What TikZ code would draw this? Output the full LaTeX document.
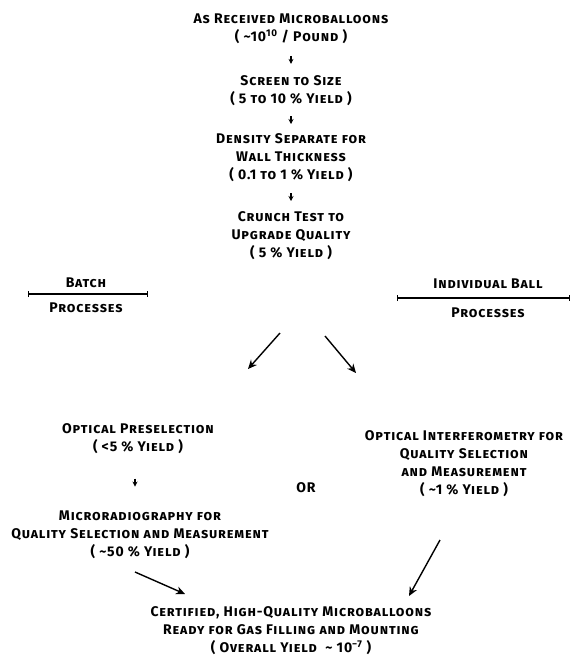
\documentclass[tikz,border=0pt]{standalone}
\usepackage{fontspec}
\setmainfont{Fira Sans}[Letters=SmallCaps,LetterSpace=6]
\usetikzlibrary{arrows.meta,calc}
\begin{document}
\begin{tikzpicture}[x=1pt,y=-1pt,
  txt/.style={font=\fontsize{14}{18}\selectfont\bfseries, align=center, inner sep=1pt},
  smallarr/.style={-{Stealth[length=5pt,width=5pt]}, line width=1.2pt},
  bigarr/.style={-{Stealth[length=9pt,width=8pt]}, line width=1.4pt},
  barline/.style={{Bar[width=6pt]}-{Bar[width=6pt]}, line width=1.2pt}]
\useasboundingbox (0,0) rectangle (575,670);

\node[txt] (n1) at (291,29) {As Received Microballoons\\( \textasciitilde10\textsuperscript{10} / Pound )};
\node[txt] (n2) at (291,91) {Screen to Size\\( 5 to 10 \% Yield )};
\node[txt] (n3) at (291,158) {Density Separate for\\Wall Thickness\\( 0.1 to 1 \% Yield )};
\node[txt] (n4) at (291,236) {Crunch Test to\\Upgrade Quality\\( 5 \% Yield )};

\node[txt] (batch) at (86,283) {Batch};
\node[txt] (proc1) at (86,308) {Processes};
\coordinate (b1) at (28,294);
\coordinate (b2) at (148,294);
\draw[barline] (b1) -- (b2);

\node[txt] (indiv) at (488,284) {Individual Ball};
\node[txt] (proc2) at (488,313) {Processes};
\coordinate (i1) at (397,298);
\coordinate (i2) at (570,298);
\draw[barline] (i1) -- (i2);

\node[txt] (n5) at (138,439) {Optical Preselection\\( <5 \% Yield )};
\node[txt] (n6) at (140,535) {Microradiography for\\Quality Selection and Measurement\\( \textasciitilde50 \% Yield )};
\node[txt] (or) at (306,488) {OR};
\node[txt] (n7) at (464,464) {Optical Interferometry for\\Quality Selection\\and Measurement\\( \textasciitilde1 \% Yield )};
\node[txt] (n8) at (291,631) {Certified, High-Quality Microballoons\\Ready for Gas Filling and Mounting\\( Overall Yield \ \textasciitilde\ 10\textsuperscript{−7} )};

\draw[smallarr] ($(n1.south)!.5!(n2.north)$) ++(0,-4) -- ++(0,8);
\draw[smallarr] ($(n2.south)!.5!(n3.north)$) ++(0,-4) -- ++(0,8);
\draw[smallarr] ($(n3.south)!.5!(n4.north)$) ++(0,-4) -- ++(0,8);
\draw[smallarr] ($(n5.south)!.5!(n6.north)$) ++(-4,-4) -- ++(0,8);

\coordinate (la1) at (280,333);
\coordinate (la2) at (248,369);
\coordinate (ra1) at (325,336);
\coordinate (ra2) at (356,373);
\draw[bigarr] (la1) -- (la2);
\draw[bigarr] (ra1) -- (ra2);

\coordinate (lb1) at (135,572);
\coordinate (lb2) at (185,594);
\coordinate (rb1) at (440,540);
\coordinate (rb2) at (409,596);
\draw[bigarr] (lb1) -- (lb2);
\draw[bigarr] (rb1) -- (rb2);
\end{tikzpicture}
\end{document}
